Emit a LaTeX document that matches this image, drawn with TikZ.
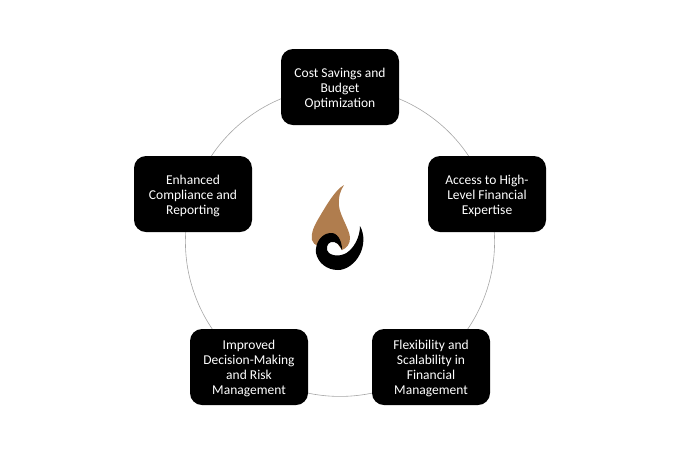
\documentclass[tikz,border=0pt]{standalone}
\usepackage{fontspec}
\setmainfont{Carlito}
\usetikzlibrary{positioning, backgrounds, fit}

\tikzset{
	benefit/.style={fill=black, rounded corners=12pt, inner sep=0pt},
	benefittext/.style={text=white, align=center, yshift=-1.5pt, font=\fontsize{13.5}{15}\selectfont},
	ringline/.style={draw=black!35, line width=0.6pt}
}

\begin{document}
\begin{tikzpicture}[x=1pt, y=-1pt]
		\definecolor{mbrown}{RGB}{176,125,78}
		\useasboundingbox (0,0) rectangle (680,459);

		% Benefits
		\node[benefit, fit={(281,49) (399,125)},
			label={[benefittext]center:{Cost Savings and\\Budget\\Optimization}}
			] (cost) {};
		\node[benefit, fit={(428,156) (546,232)},
			label={[benefittext]center:{Access to High-\\Level Financial\\Expertise}}
			] (access) {};
		\node[benefit, fit={(372,329) (490,405)},
			label={[benefittext]center:{Flexibility and\\Scalability in\\Financial\\Management}}
			] (flex) {};
		\node[benefit, fit={(190,329) (308,405)},
			label={[benefittext]center:{Improved\\Decision-Making\\and Risk\\Management}}
			] (improved) {};
		\node[benefit, fit={(134,156) (252,232)},
			label={[benefittext]center:{Enhanced\\Compliance and\\Reporting}}
			] (compliance) {};

		% Ring
		\begin{scope}[on background layer]
			\draw[ringline] (cost.center) to[bend left=36, looseness=0.94] (access.center);
			\draw[ringline] (access.center) to[bend left=36, looseness=0.94] (flex.center);
			\draw[ringline] (flex.center) to[bend left=36, looseness=0.94] (improved.center);
			\draw[ringline] (improved.center) to[bend left=36, looseness=0.94] (compliance.center);
			\draw[ringline] (compliance.center) to[bend left=36, looseness=0.94] (cost.center);
		\end{scope}

		% Flame
		\fill[mbrown] (344,185) .. controls (335,190) and (326,206) .. (320,216)
			.. controls (314,226) and (311,232) .. (312,240)
			.. controls (313,243) and (315,245) .. (318,246)
			-- (335,240) -- (342,250)
			.. controls (347,248) and (350,244) .. (350,238)
			.. controls (350,230) and (340,216) .. (339,206)
			.. controls (338,198) and (340,191) .. (344,185) -- cycle;
		% Swirl
		\fill[black] (360,226) .. controls (365,235) and (364,246) .. (360,254)
			.. controls (355,264) and (346,270) .. (338,270)
			.. controls (327,270) and (318,263) .. (316,253)
			.. controls (315,243) and (321,234) .. (330,233)
			.. controls (337,232) and (342,240) .. (342,250)
			.. controls (340,245) and (336,241) .. (331,242)
			.. controls (327,243) and (325,250) .. (329,253)
			.. controls (334,257) and (344,256) .. (349,251)
			.. controls (355,246) and (360,236) .. (360,226) -- cycle;
	\end{tikzpicture}
\end{document}
